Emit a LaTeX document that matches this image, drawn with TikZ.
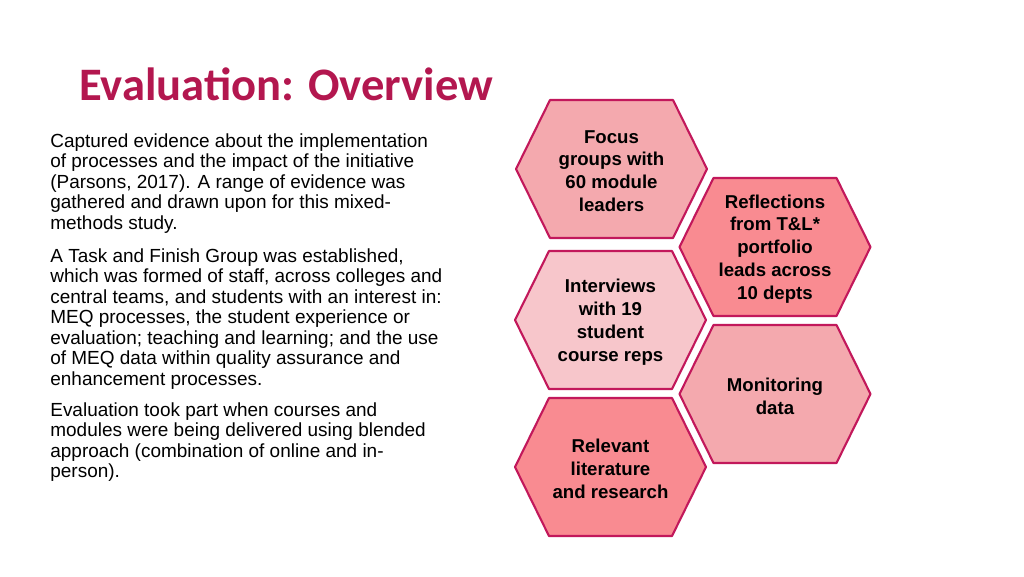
\documentclass[tikz,border=0pt]{standalone}
\usepackage{fontspec}
\setmainfont{Liberation Sans}
\newfontfamily\titlefont{Carlito}
\usetikzlibrary{positioning}
\definecolor{crimson}{HTML}{B3174F}
\definecolor{edgered}{HTML}{C2185B}
\definecolor{pinkmid}{HTML}{F4A9AE}
\definecolor{pinklight}{HTML}{F7C6CB}
\definecolor{pinkdeep}{HTML}{F98B91}
\tikzset{
  cell/.style={draw=edgered,line width=1.2pt,line join=round},
  celltext/.style={font=\fontsize{10.6}{13}\selectfont\bfseries,align=center,text=black},
  para/.style={font=\fontsize{10.8}{11.7}\selectfont,align=left,anchor=north west,inner sep=0pt}
}
% hexagon cell: name, centre, fill, text
\newcommand\hexcell[4]{%
  \fill[#3] ($#2+(-95.5,0)$) -- ++(34,-69) -- ++(123,0) -- ++(34,69) -- ++(-34,69) -- ++(-123,0) -- cycle;
  \draw[cell] ($#2+(-95.5,0)$) -- ++(34,-69) -- ++(123,0) -- ++(34,69) -- ++(-34,69) -- ++(-123,0) -- cycle;
  \node[celltext] (#1) at ($#2+(0,2)$) {#4};}
\usetikzlibrary{calc}
\begin{document}
\begin{tikzpicture}[x=0.02cm,y=-0.02cm]
  \useasboundingbox (0,0) rectangle (1024,576);
  \node[anchor=west,inner sep=0pt,text=crimson,font=\titlefont\fontsize{26.5}{30}\selectfont\bfseries] (title) at (79,84) {Evaluation: Overview};

  \node[para] (intro) at (50,133) {Captured evidence about the implementation\\of processes and the impact of the initiative\\(Parsons, 2017). A range of evidence was\\gathered and drawn upon for this mixed-\\methods study.};
  \node[para] (group) at (50,248) {A Task and Finish Group was established,\\which was formed of staff, across colleges and\\central teams, and students with an interest in:\\MEQ processes, the student experience or\\evaluation; teaching and learning; and the use\\of MEQ data within quality assurance and\\enhancement processes.};
  \node[para] (timing) at (50,402) {Evaluation took part when courses and\\modules were being delivered using blended\\approach (combination of online and in-\\person).};

  \hexcell{focus}{(611.5,169)}{pinkmid}{Focus\\groups with\\60 module\\leaders}
  \hexcell{interviews}{(610.5,320)}{pinklight}{Interviews\\with 19\\student\\course reps}
  \hexcell{literature}{(610.5,467)}{pinkdeep}{Relevant\\literature\\and research}
  \hexcell{reflections}{(775,247)}{pinkdeep}{Reflections\\from T\&L*\\portfolio\\leads across\\10 depts}
  \hexcell{monitoring}{(775,394)}{pinkmid}{Monitoring\\data}
\end{tikzpicture}
\end{document}
